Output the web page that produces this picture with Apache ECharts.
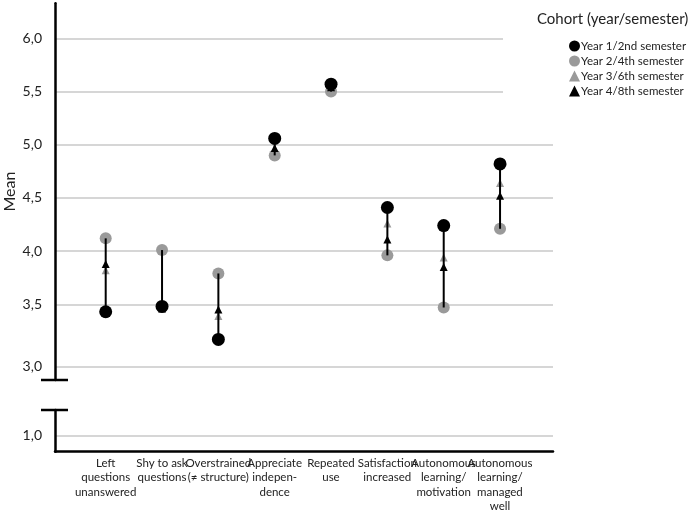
<!DOCTYPE html>
<html>
<head>
<meta charset="UTF-8">
<title>Cohort means</title>
<script src="https://cdn.jsdelivr.net/npm/echarts@6.0.0/dist/echarts.min.js"></script>
<style>
  html, body { margin: 0; padding: 0; background: #fff; }
  #main { width: 692px; height: 512px; }
</style>
</head>
<body>
<div id="main"></div>
<script>
// categories (x axis)
var categories = [
  'Left\nquestions\nunanswered',
  'Shy to ask\nquestions',
  'Overstrained\n(\u2260 structure)',
  'Appreciate\nindepen-\ndence',
  'Repeated\nuse',
  'Satisfaction\nincreased',
  'Autonomous\nlearning/\nmotivation',
  'Autonomous\nlearning/\nmanaged\nwell'
];
// mean per cohort
var year1 = [3.43, 3.48, 3.17, 5.06, 5.57, 4.41, 4.24, 4.82];
var year2 = [4.12, 4.01, 3.79, 4.90, 5.50, 3.96, 3.47, 4.21];
var year3 = [3.82, 3.47, 3.39, 4.93, 5.52, 4.26, 3.94, 4.64];
var year4 = [3.88, 3.46, 3.45, 4.97, 5.54, 4.11, 3.85, 4.52];
var seriesNames = ['Year 1/2nd semester', 'Year 2/4th semester', 'Year 3/6th semester', 'Year 4/8th semester'];
// y tick labels
var upperTicks = [3.5, 4.0, 4.5, 5.0, 5.5, 6.0];
var midTicks = [3.0];
var lowerTicks = [1.0];

var FONT = 'Lato';
function fmt(v) { return v.toFixed(1).replace('.', ','); }
function pts(arr) { return arr.map(function (v, i) { return [i + 1, v]; }); }

var ranges = categories.map(function (c, i) {
  var vals = [year1[i], year2[i], year3[i], year4[i]];
  return [i + 1, Math.min.apply(null, vals), Math.max.apply(null, vals)];
});

var gridColor = '#c8c8c8';
var chart = echarts.init(document.getElementById('main'));

function g(left, top, width, height) {
  return { left: left, top: top, width: width, height: height, outerBoundsMode: 'none', containLabel: false };
}
function hiddenX(gi, max) {
  return { type: 'value', gridIndex: gi, min: 0.1, max: max, show: false, splitLine: { show: false } };
}

var option = {
  animation: false,
  textStyle: { fontFamily: FONT },
  title: {
    text: 'Cohort (year/semester)',
    left: 532, top: 7,
    textStyle: { fontFamily: FONT, fontSize: 15, fontWeight: 'normal', color: '#222' }
  },
  legend: {
    orient: 'vertical',
    left: 569, top: 40,
    itemWidth: 11, itemHeight: 11, itemGap: 3,
    padding: 0,
    data: seriesNames,
    textStyle: { fontFamily: FONT, fontSize: 11.5, color: '#222', padding: [0, 0, 0, -4] }
  },
  grid: [
    g(55, 3.3, 498, 301),      // 0 data, lower gridlines
    g(55, 3.3, 448, 301),      // 1 short top gridlines
    g(55, 304.3, 498, 75.7),   // 2 the 3,0 line
    g(55, 410, 498, 41.7),     // 3 lower part with 1,0
    g(55, 3.3, 498, 376.7),    // 4 upper axis line + name
    g(77.5, 410, 450.6, 41.7)  // 5 category labels
  ],
  xAxis: [
    hiddenX(0, 8.94),
    hiddenX(1, 8.05),
    hiddenX(2, 8.94),
    {
      type: 'value', gridIndex: 3, min: 0.1, max: 8.94,
      axisLine: { show: true, onZero: false, lineStyle: { color: '#000', width: 2.5 } },
      axisTick: { show: false }, axisLabel: { show: false }, splitLine: { show: false }
    },
    hiddenX(4, 8.94),
    {
      type: 'category', gridIndex: 5, data: categories, boundaryGap: true,
      axisLine: { show: false }, axisTick: { show: false }, splitLine: { show: false },
      axisLabel: {
        interval: 0, fontFamily: FONT, fontSize: 11.5, color: '#222', lineHeight: 14.5, margin: 4
      }
    }
  ],
  yAxis: [
    {
      type: 'value', gridIndex: 0, min: 3.5, max: 6.33,
      axisLine: { show: false },
      axisTick: { show: false, customValues: [3.5, 4.0, 4.5, 5.0] },
      splitLine: { show: true, lineStyle: { color: gridColor, width: 1.5 } },
      axisLabel: {
        customValues: upperTicks, formatter: fmt,
        fontFamily: FONT, fontSize: 14, color: '#222', margin: 13
      }
    },
    {
      type: 'value', gridIndex: 1, min: 3.5, max: 6.33,
      axisLine: { show: false },
      axisTick: { show: false, customValues: [5.5, 6.0] },
      splitLine: { show: true, lineStyle: { color: gridColor, width: 1.5 } },
      axisLabel: { show: false }
    },
    {
      type: 'value', gridIndex: 2, min: 2.893, max: 3.5,
      axisLine: { show: false },
      axisTick: { show: false, customValues: midTicks },
      splitLine: { show: true, lineStyle: { color: gridColor, width: 1.5 } },
      axisLabel: {
        customValues: midTicks, formatter: fmt,
        fontFamily: FONT, fontSize: 14, color: '#222', margin: 13
      }
    },
    {
      type: 'value', gridIndex: 3, min: 0.85, max: 1.241,
      axisLine: { show: true, onZero: false, lineStyle: { color: '#000', width: 2.5 } },
      axisTick: { show: false, customValues: lowerTicks },
      splitLine: { show: true, lineStyle: { color: gridColor, width: 1.5 } },
      axisLabel: {
        customValues: lowerTicks, formatter: fmt,
        fontFamily: FONT, fontSize: 14, color: '#222', margin: 13
      }
    },
    {
      type: 'value', gridIndex: 4, min: 0, max: 1,
      axisLine: { show: true, onZero: false, lineStyle: { color: '#000', width: 2.5 } },
      axisTick: { show: false },
      splitLine: { show: false },
      axisLabel: { show: false },
      name: 'Mean', nameLocation: 'middle', nameRotate: 90, nameGap: 37,
      nameTextStyle: { fontFamily: FONT, fontSize: 16, color: '#222' }
    },
    { type: 'value', gridIndex: 5, show: false, splitLine: { show: false } }
  ],
  graphic: [
    { type: 'line', shape: { x1: 41, y1: 380, x2: 68, y2: 380 }, style: { stroke: '#000', lineWidth: 2.5 } },
    { type: 'line', shape: { x1: 41, y1: 410, x2: 68, y2: 410 }, style: { stroke: '#000', lineWidth: 2.5 } }
  ],
  series: [
    {
      name: seriesNames[1], type: 'scatter', xAxisIndex: 0, yAxisIndex: 0,
      symbol: 'circle', symbolSize: 12, clip: false, z: 2,
      itemStyle: { color: '#9a9a9a', opacity: 1 }, data: pts(year2)
    },
    {
      name: seriesNames[2], type: 'scatter', xAxisIndex: 0, yAxisIndex: 0,
      symbol: 'triangle', symbolSize: 8, clip: false, z: 3,
      itemStyle: { color: '#9a9a9a', opacity: 1 }, data: pts(year3)
    },
    {
      type: 'custom', xAxisIndex: 0, yAxisIndex: 0, z: 4, clip: false,
      data: ranges,
      renderItem: function (params, api) {
        var a = api.coord([api.value(0), api.value(1)]);
        var b = api.coord([api.value(0), api.value(2)]);
        return {
          type: 'line',
          shape: { x1: a[0], y1: a[1], x2: b[0], y2: b[1] },
          style: { stroke: '#000', lineWidth: 2 }
        };
      },
      silent: true
    },
    {
      name: seriesNames[3], type: 'scatter', xAxisIndex: 0, yAxisIndex: 0,
      symbol: 'triangle', symbolSize: 8, clip: false, z: 5,
      itemStyle: { color: '#000', opacity: 1 }, data: pts(year4)
    },
    {
      name: seriesNames[0], type: 'scatter', xAxisIndex: 0, yAxisIndex: 0,
      symbol: 'circle', symbolSize: 13, clip: false, z: 6,
      itemStyle: { color: '#000', opacity: 1 }, data: pts(year1)
    }
  ]
};
chart.setOption(option);
</script>
</body>
</html>
